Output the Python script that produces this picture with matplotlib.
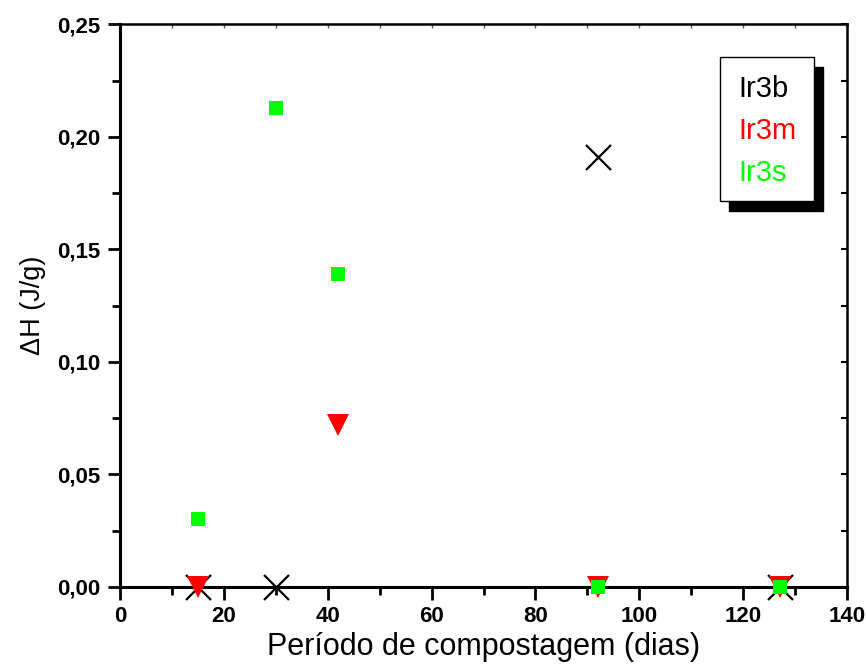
import matplotlib
matplotlib.use("Agg")
import matplotlib.pyplot as plt
from matplotlib.patches import Rectangle
from matplotlib.ticker import MultipleLocator, FuncFormatter

plt.rcParams['font.family'] = ['Liberation Sans', 'DejaVu Sans']

# Data
days_b = [15, 30, 92, 127]
vals_b = [0.0, 0.0, 0.191, 0.0]
days_m = [15, 42, 92, 127]
vals_m = [0.0, 0.072, 0.0, 0.0]
days_s = [15, 30, 42, 92, 127]
vals_s = [0.030, 0.213, 0.139, 0.0, 0.0]
series_names = ["Ir3b", "Ir3m", "Ir3s"]
series_colors = ["#000000", "#ff0000", "#00ff00"]

fig = plt.figure(figsize=(8.66, 6.69), dpi=100)
ax = fig.add_axes([0.1386, 0.1226, 0.8395, 0.8408])

ax.plot(days_b, vals_b, linestyle='none', marker='x', markersize=18,
        markeredgewidth=1.6, color=series_colors[0], clip_on=False, zorder=3)
ax.plot(days_m, vals_m, linestyle='none', marker='v', markersize=16,
        markeredgewidth=0, color=series_colors[1], clip_on=False, zorder=4)
ax.plot(days_s, vals_s, linestyle='none', marker='s', markersize=9.5,
        markeredgewidth=0, color=series_colors[2], clip_on=False, zorder=5)

ax.set_xlim(0, 140)
ax.set_ylim(0, 0.25)
ax.xaxis.set_major_locator(MultipleLocator(20))
ax.xaxis.set_minor_locator(MultipleLocator(10))
ax.yaxis.set_major_locator(MultipleLocator(0.05))
ax.yaxis.set_minor_locator(MultipleLocator(0.025))
ax.yaxis.set_major_formatter(FuncFormatter(lambda v, p: f"{v:.2f}".replace('.', ',')))

ax.tick_params(which='major', direction='out', length=9, width=2, labelsize=16, pad=5)
ax.tick_params(which='minor', direction='out', length=5.5, width=2)
for lab in ax.get_xticklabels() + ax.get_yticklabels():
    lab.set_fontweight('bold')

for side in ['left', 'bottom']:
    ax.spines[side].set_linewidth(2.2)
for side in ['top', 'right']:
    ax.spines[side].set_linewidth(1.8)

secx = ax.secondary_xaxis('top')
secx.xaxis.set_major_locator(MultipleLocator(10))
secx.tick_params(direction='in', length=3, width=1, labeltop=False, colors='#555555')
secx.spines['top'].set_visible(False)
secy = ax.secondary_yaxis('right')
secy.yaxis.set_major_locator(MultipleLocator(0.025))
secy.tick_params(direction='in', length=4, width=1.5, labelright=False)
secy.spines['right'].set_visible(False)

ax.set_xlabel("Período de compostagem (dias)", fontsize=22, labelpad=3)
ax.set_ylabel("ΔH (J/g)", fontsize=19.5, labelpad=8)

# Legend box with shadow (axes coordinates)
x0, x1 = 0.825, 0.955
y0, y1 = 0.686, 0.942
dx, dy = 9 / 727, 10 / 562.5
ax.add_patch(Rectangle((x0 + dx, y0 - dy), x1 - x0, y1 - y0, transform=ax.transAxes,
                       facecolor='black', edgecolor='black', zorder=6, clip_on=False))
ax.add_patch(Rectangle((x0, y0), x1 - x0, y1 - y0, transform=ax.transAxes,
                       facecolor='white', edgecolor='black', linewidth=1, zorder=7, clip_on=False))
base_y = [(587 - 97) / 562.5, (587 - 139) / 562.5, (587 - 181) / 562.5]
for name, col, yy in zip(series_names, series_colors, base_y):
    ax.text((738 - 120) / 727, yy, name, color=col, fontsize=21, transform=ax.transAxes,
            ha='left', va='baseline', zorder=8)

fig.savefig("out.png", dpi=100)
